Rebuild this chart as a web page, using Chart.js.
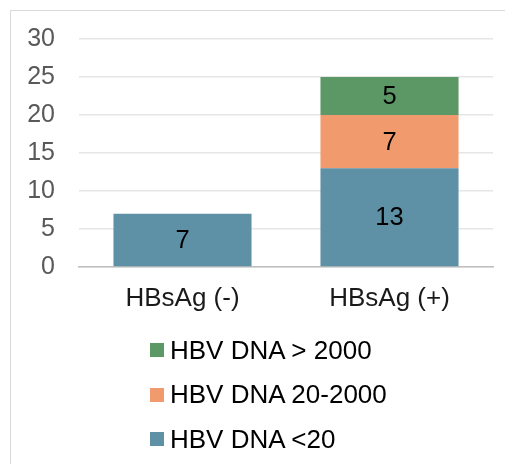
<!DOCTYPE html>
<html>
<head>
<meta charset="utf-8">
<script src="https://cdn.jsdelivr.net/npm/chart.js@4/dist/chart.umd.min.js"></script>
<style>
  html, body { margin: 0; padding: 0; background: #fff; width: 505px; height: 464px; overflow: hidden; }
  #frame { position: absolute; left: 10px; top: 10px; width: 520px; height: 480px; border: 1.5px solid #d9d9d9; }
  #chartWrap { position: absolute; left: 0; top: 0; width: 505px; height: 330px; }
  #legend { position: absolute; left: 150px; top: 328px; font-family: "Liberation Sans", Arial, sans-serif; font-size: 26px; color: #000; }
  .item { display: flex; align-items: center; height: 44.5px; white-space: nowrap; }
  .box { width: 14px; height: 14px; margin-right: 6px; }
</style>
</head>
<body>
<div id="frame"></div>
<div id="chartWrap"><canvas id="chartHbv" width="505" height="330"></canvas></div>
<div id="legend"></div>
<script>
// Data
const categories = ["HBsAg (-)", "HBsAg (+)"];
const seriesNames = ["HBV DNA <20", "HBV DNA 20-2000", "HBV DNA > 2000"];
const dnaLow = [7, 13];
const dnaMid = [null, 7];
const dnaHigh = [null, 5];
const yMin = 0, yMax = 30, yStep = 5;

const warna = ["#5e90a6", "#f09a6e", "#5c9766"];
const fontFam = '"Liberation Sans", Arial, sans-serif';

// Plugin: angka di tengah batang
const labelBatang = {
  id: "labelBatang",
  afterDatasetsDraw(chart) {
    const ctx = chart.ctx;
    ctx.save();
    ctx.font = "25.5px " + fontFam;
    ctx.fillStyle = "#000";
    ctx.textAlign = "center";
    ctx.textBaseline = "middle";
    chart.data.datasets.forEach((ds, i) => {
      chart.getDatasetMeta(i).data.forEach((bar, j) => {
        const v = ds.data[j];
        if (v == null) return;
        ctx.fillText(String(v), bar.x, (bar.y + bar.base) / 2 + 1);
      });
    });
    ctx.restore();
  }
};

new Chart(document.getElementById("chartHbv"), {
  type: "bar",
  data: {
    labels: categories,
    datasets: [
      { label: seriesNames[0], data: dnaLow, backgroundColor: warna[0] },
      { label: seriesNames[1], data: dnaMid, backgroundColor: warna[1] },
      { label: seriesNames[2], data: dnaHigh, backgroundColor: warna[2] }
    ]
  },
  options: {
    responsive: false,
    animation: false,
    layout: { padding: { top: 38, right: 12, left: 0, bottom: 0 } },
    datasets: { bar: { barPercentage: 0.667, categoryPercentage: 1 } },
    plugins: { legend: { display: false }, tooltip: { enabled: false } },
    scales: {
      x: {
        stacked: true,
        grid: { display: false, drawTicks: false },
        border: { display: true, color: "#bfbfbf", width: 1.5 },
        ticks: { color: "#1a1a1a", font: { family: fontFam, size: 26 }, padding: 16 },
        afterFit: s => { s.height = 63; }
      },
      y: {
        stacked: true,
        min: yMin, max: yMax,
        grid: { color: "#e6e6e6", lineWidth: 1.5, drawTicks: false },
        border: { display: false },
        ticks: { stepSize: yStep, color: "#595959", font: { family: fontFam, size: 25 }, padding: 24 },
        afterFit: s => { s.width = 79; }
      }
    }
  },
  plugins: [labelBatang]
});

// Legend (urutan terbalik, seperti di gambar)
document.getElementById("legend").innerHTML = seriesNames
  .map((n, i) => `<div class="item"><span class="box" style="background:${warna[i]}"></span>${n}</div>`)
  .reverse().join("");
</script>
</body>
</html>
